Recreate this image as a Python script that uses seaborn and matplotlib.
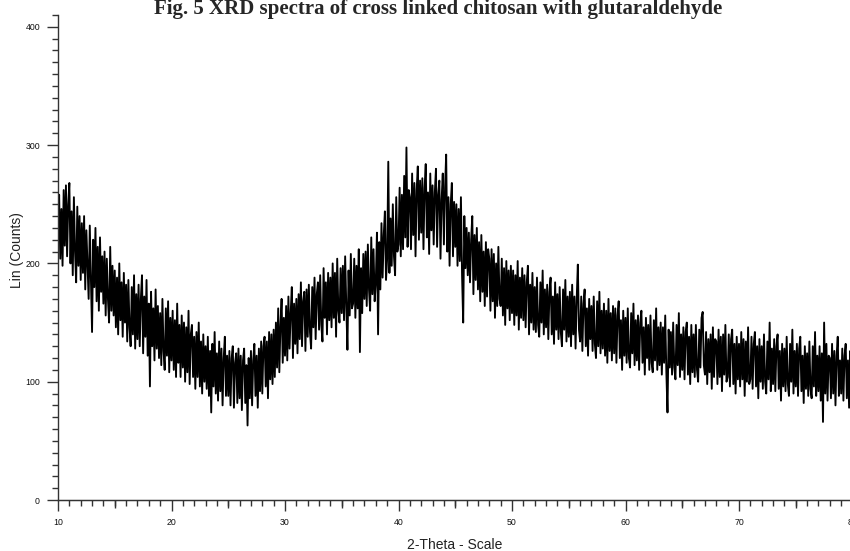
import numpy as np
import pandas as pd
import matplotlib
matplotlib.use("Agg")
import matplotlib.pyplot as plt
import seaborn as sns

# ---- data ----
theta_start = 10.0
theta_step = 0.1

counts_rows = [
    [225, 258, 204, 246, 198, 262, 215, 266, 206, 250],  # 10
    [268, 200, 244, 190, 256, 210, 184, 248, 198, 240],  # 11
    [186, 234, 192, 240, 178, 228, 200, 170, 232, 188],  # 12
    [142, 220, 180, 230, 168, 214, 160, 222, 176, 206],  # 13
    [166, 210, 156, 204, 170, 150, 214, 160, 198, 156],  # 14
    [194, 146, 188, 140, 200, 152, 184, 138, 192, 150],  # 15
    [182, 134, 186, 146, 130, 180, 140, 190, 128, 174],  # 16
    [136, 182, 130, 170, 190, 124, 172, 138, 186, 122],  # 17
    [166, 96, 176, 130, 162, 118, 178, 128, 164, 120],   # 18
    [158, 114, 170, 126, 110, 162, 122, 168, 108, 154],  # 19
    [118, 160, 110, 152, 104, 166, 116, 148, 104, 156],  # 20
    [112, 150, 100, 146, 108, 160, 98, 140, 148, 104],   # 21
    [138, 94, 142, 104, 150, 96, 134, 90, 140, 100],     # 22
    [130, 94, 138, 88, 126, 74, 132, 96, 142, 90],       # 23
    [124, 84, 134, 92, 128, 80, 120, 138, 88, 122],      # 24
    [88, 126, 80, 120, 130, 78, 116, 124, 82, 128],      # 25
    [86, 122, 76, 118, 128, 82, 114, 63, 120, 86],       # 26
    [126, 80, 118, 132, 88, 122, 78, 128, 92, 134],      # 27
    [90, 130, 138, 96, 134, 86, 142, 102, 140, 98],      # 28
    [144, 104, 150, 112, 162, 108, 148, 170, 116, 154],  # 29
    [122, 164, 118, 172, 128, 158, 180, 120, 166, 132],  # 30
    [170, 124, 174, 136, 184, 130, 168, 176, 126, 178],  # 31
    [138, 182, 142, 128, 180, 146, 188, 136, 174, 184],  # 32
    [144, 190, 148, 134, 196, 154, 184, 140, 192, 152],  # 33
    [188, 146, 200, 154, 192, 138, 204, 160, 150, 196],  # 34
    [158, 198, 152, 206, 164, 127, 194, 156, 208, 162],  # 35
    [166, 204, 154, 198, 162, 212, 125, 196, 158, 208],  # 36
    [170, 210, 164, 216, 178, 160, 222, 174, 212, 168],  # 37
    [184, 226, 140, 218, 178, 234, 188, 224, 244, 186],  # 38
    [204, 286, 192, 238, 198, 250, 206, 190, 256, 210],  # 39
    [216, 264, 206, 258, 212, 274, 222, 298, 214, 262],  # 40
    [256, 212, 276, 224, 268, 206, 262, 282, 220, 270],  # 41
    [226, 272, 212, 264, 284, 222, 260, 208, 276, 228],  # 42
    [266, 216, 260, 280, 214, 258, 270, 204, 254, 276],  # 43
    [216, 264, 292, 210, 256, 198, 250, 268, 206, 252],  # 44
    [214, 250, 198, 246, 202, 256, 190, 150, 240, 196],  # 45
    [230, 190, 226, 184, 220, 240, 174, 224, 186, 230],  # 46
    [178, 218, 168, 224, 176, 210, 164, 218, 172, 212],  # 47
    [204, 160, 212, 168, 208, 154, 200, 164, 214, 170],  # 48
    [164, 204, 156, 196, 148, 202, 162, 194, 152, 198],  # 49
    [158, 194, 148, 190, 156, 202, 144, 188, 154, 196],  # 50
    [152, 190, 146, 184, 198, 140, 182, 150, 192, 144],  # 51
    [180, 142, 188, 148, 138, 184, 150, 194, 140, 178],  # 52
    [146, 182, 136, 176, 188, 140, 172, 132, 184, 144],  # 53
    [174, 136, 180, 142, 130, 178, 144, 186, 134, 172],  # 54
    [138, 176, 130, 182, 140, 172, 128, 170, 199, 144],  # 55
    [134, 172, 126, 166, 178, 130, 162, 122, 170, 136],  # 56
    [164, 126, 172, 132, 120, 168, 130, 176, 124, 160],  # 57
    [128, 166, 122, 160, 116, 170, 126, 158, 118, 164],  # 58
    [124, 162, 116, 156, 168, 120, 152, 110, 160, 122],  # 59
    [154, 116, 162, 120, 112, 158, 124, 166, 114, 152],  # 60
    [118, 156, 110, 150, 160, 116, 146, 106, 154, 120],  # 61
    [148, 110, 156, 116, 108, 152, 118, 162, 110, 146],  # 62
    [114, 150, 106, 146, 116, 156, 108, 74, 144, 112],   # 63
    [142, 106, 150, 112, 102, 148, 114, 158, 104, 140],  # 64
    [110, 146, 102, 142, 150, 106, 138, 98, 148, 108],   # 65
    [140, 104, 148, 110, 100, 144, 112, 154, 159, 114],  # 66
    [106, 142, 98, 136, 108, 140, 94, 146, 104, 136],    # 67
    [134, 98, 144, 104, 138, 92, 140, 106, 148, 100],    # 68
    [104, 140, 96, 136, 144, 98, 132, 90, 138, 102],     # 69
    [132, 96, 142, 102, 136, 88, 134, 100, 146, 98],     # 70
    [102, 138, 94, 132, 142, 96, 130, 86, 136, 100],     # 71
    [130, 94, 140, 100, 90, 134, 102, 150, 92, 128],     # 72
    [98, 136, 92, 130, 140, 94, 126, 84, 132, 96],       # 73
    [128, 92, 138, 98, 88, 132, 100, 144, 90, 126],      # 74
    [96, 132, 88, 128, 138, 92, 122, 82, 130, 94],       # 75
    [124, 88, 134, 94, 86, 130, 96, 142, 88, 122],       # 76
    [92, 130, 84, 124, 66, 150, 90, 132, 84, 122],       # 77
    [120, 86, 132, 90, 126, 80, 122, 138, 88, 118],      # 78
    [90, 128, 84, 122, 132, 86, 118, 78, 126, 92],       # 79
    [110],                                               # 80
]

x_major_ticks = [10, 20, 30, 40, 50, 60, 70, 80]
y_major_ticks = [0, 100, 200, 300, 400]

title_text = "Fig. 5 XRD spectra of cross linked chitosan with glutaraldehyde"
x_label = "2-Theta - Scale"
y_label = "Lin (Counts)"

# ---- build table ----
counts = [v for row in counts_rows for v in row]
two_theta = np.round(theta_start + theta_step * np.arange(len(counts)), 1)
df = pd.DataFrame({"two_theta": two_theta, "counts": counts})

# ---- style ----
sns.set_style("ticks")
plt.rcParams["font.family"] = ["Liberation Sans", "DejaVu Sans"]

fig = plt.figure(figsize=(8.5, 5.51), dpi=100)
ax = fig.add_axes([58 / 850, 51 / 551, (852.5 - 58) / 850, (500 - 15) / 551])

sns.lineplot(data=df, x="two_theta", y="counts", ax=ax, color="black",
             linewidth=1.35, estimator=None, sort=False)

ax.set_xlim(10, 80)
ax.set_ylim(0, 410)
ax.set_xticks(x_major_ticks)
ax.set_xticklabels([str(t) for t in x_major_ticks])
ax.set_yticks(y_major_ticks)
ax.set_yticklabels([str(t) for t in y_major_ticks])
ax.set_xticks(np.arange(10, 81, 1), minor=True)
ax.set_yticks(np.arange(0, 411, 10), minor=True)

axis_col = "#333333"
ax.tick_params(axis="both", which="major", length=8, width=1, color=axis_col,
               labelsize=6.3, pad=5, labelcolor="#111111")
ax.tick_params(axis="both", which="minor", length=4, width=1, color=axis_col)

# medium ticks at the 5s on the x axis
sec = ax.secondary_xaxis("bottom")
sec.set_xticks([15, 25, 35, 45, 55, 65, 75])
sec.set_xticklabels([])
sec.tick_params(length=6, width=1, color=axis_col)
sec.spines["bottom"].set_color(axis_col)

for side in ["top", "right"]:
    ax.spines[side].set_visible(False)
for side in ["left", "bottom"]:
    ax.spines[side].set_color(axis_col)
    ax.spines[side].set_linewidth(1)

ax.set_xlabel("")
ax.set_ylabel("")
fig.text(455 / 850, 1 - 545 / 551, x_label, ha="center", va="center",
         fontsize=10, color="#222222")
fig.text(17 / 850, 1 - 250 / 551, y_label, ha="center", va="center",
         rotation=90, fontsize=10, color="#222222")
fig.text(438 / 850, 1 - 14 / 551, title_text, ha="center", va="baseline",
         fontsize=15, fontweight="bold", family=["Liberation Serif", "DejaVu Serif"])

fig.savefig("out.png", dpi=100)
